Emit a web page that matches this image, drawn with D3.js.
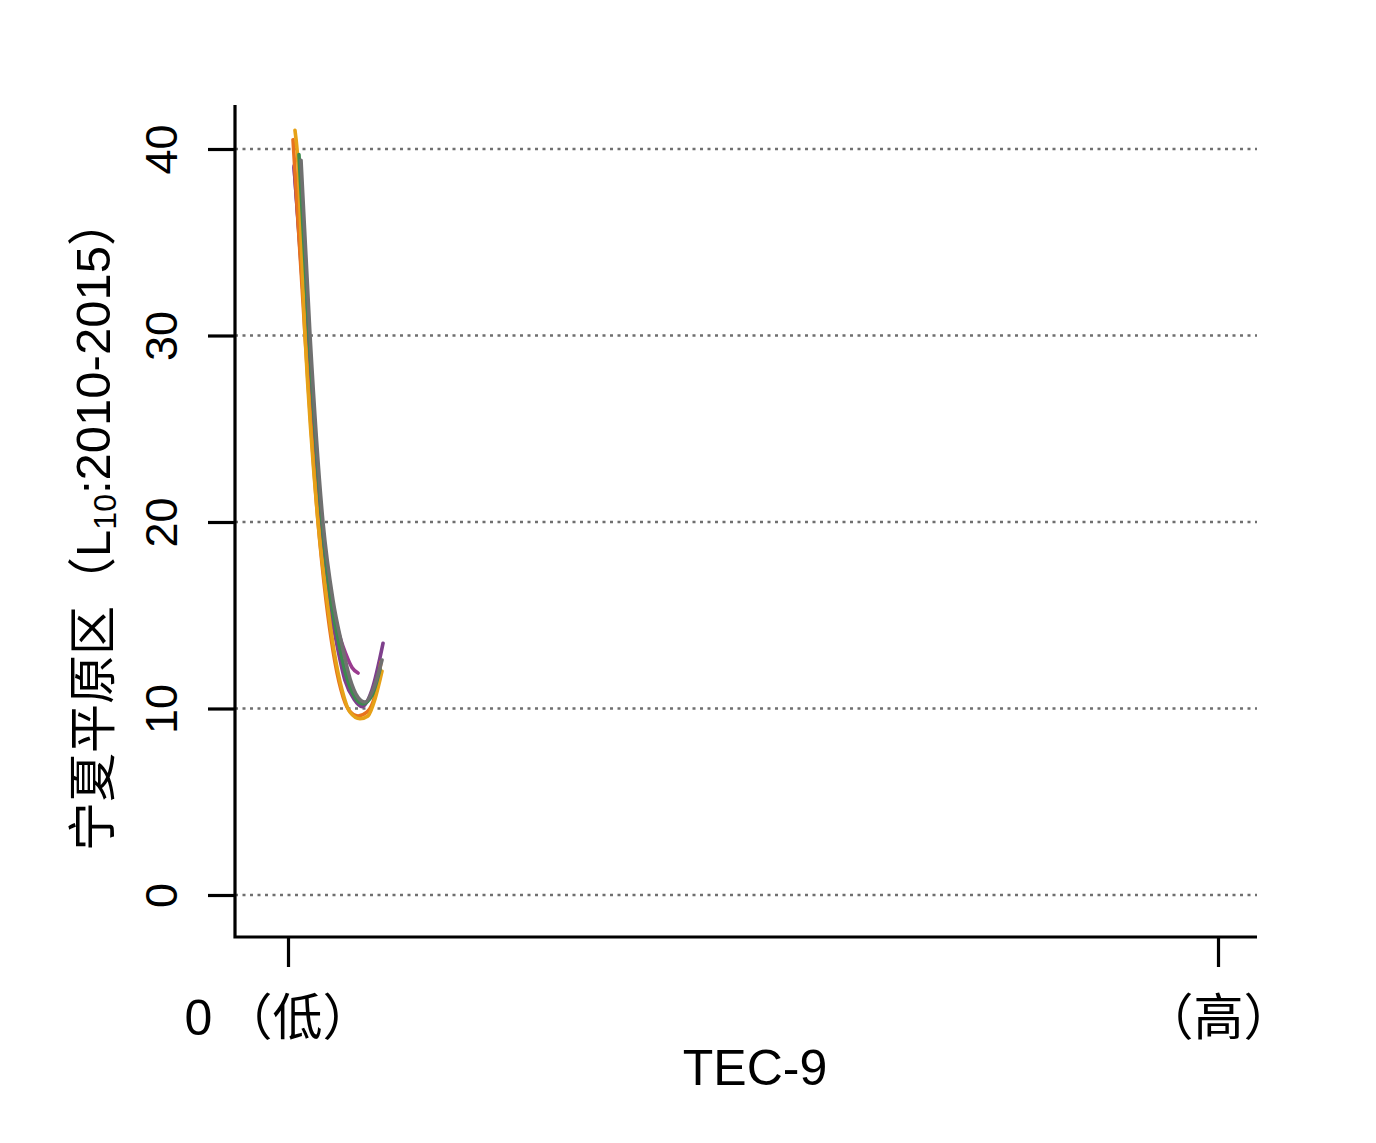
<!DOCTYPE html>
<html>
<head>
<meta charset="utf-8">
<script src="https://cdn.jsdelivr.net/npm/d3@7"></script>
<style>
  body { margin: 0; background: #fff; }
  text { font-family: "Liberation Sans", Arial, "Noto Sans CJK SC", sans-serif; fill: #000; }
</style>
</head>
<body>
<div class="chart"></div>
<script>
// Data (x on a 0-100 scale between the "low" and "high" ticks)
const yTicks = [0, 10, 20, 30, 40];
const xTickValues = [0, 100];
const xTickLabels = ["0\u2009（低）", "（高）"];
const xTitle = "TEC-9";

const seriesColors = ["#9a3b8f", "#7e3f8c", "#e8731e", "#e6a118", "#3d8b4f", "#707070"];

const magenta = [[0.65, 39.0], [2.04, 30.0], [3.55, 20.0], [4.52, 16.4], [5.38, 14.2], [6.24, 12.9], [6.88, 12.2], [7.53, 11.9]];
const purple  = [[0.65, 39.1], [1.94, 30.0], [3.44, 20.0], [4.41, 15.8], [5.27, 13.4], [6.13, 11.5], [7.10, 10.5], [7.96, 10.1], [9.03, 11.0], [10.22, 13.5]];
const orange  = [[0.54, 40.5], [1.83, 30.0], [3.23, 20.0], [4.09, 15.8], [4.84, 13.1], [5.70, 11.0], [6.56, 9.9], [7.53, 9.6], [8.49, 9.8], [9.35, 10.7], [10.0, 12.5]];
const gold    = [[0.75, 41.0], [0.97, 40.0], [1.83, 30.0], [3.23, 20.0], [4.19, 15.8], [4.95, 13.1], [5.81, 11.0], [6.67, 9.8], [7.74, 9.45], [8.60, 9.6], [9.35, 10.5], [10.11, 12.0]];
const green   = [[1.18, 39.7], [2.26, 30.0], [3.66, 20.0], [4.62, 15.8], [5.38, 13.7], [6.24, 11.8], [7.20, 10.6], [8.06, 10.25], [9.03, 10.7], [9.89, 12.1]];
const gray    = [[1.40, 39.4], [2.37, 30.0], [3.76, 20.0], [4.84, 15.8], [5.81, 13.4], [6.67, 11.6], [7.53, 10.6], [8.28, 10.35], [9.14, 11.0], [10.11, 12.6]];

const allSeries = [magenta, purple, orange, gold, green, gray];

const WIDTH = 1376, HEIGHT = 1143;

const svg = d3.select(".chart").append("svg").attr("width", WIDTH).attr("height", HEIGHT);

const x = d3.scaleLinear().domain([0, 100]).range([288, 1218]);
const y = d3.scaleLinear().domain([0, 40]).range([895, 149]);

const plotLeft = 235, plotRight = 1257, plotBottom = 937, plotTop = 105;

// grid
svg.append("g")
  .selectAll("line")
  .data(yTicks)
  .join("line")
  .attr("x1", plotLeft).attr("x2", plotRight)
  .attr("y1", d => y(d)).attr("y2", d => y(d))
  .attr("stroke", "#6f6f6f")
  .attr("stroke-width", 2.5)
  .attr("stroke-dasharray", "3,4.5");

// curves
const line = d3.line()
  .x(d => x(d[0]))
  .y(d => y(d[1]))
  .curve(d3.curveMonotoneX);

svg.append("g")
  .selectAll("path")
  .data(allSeries)
  .join("path")
  .attr("d", line)
  .attr("fill", "none")
  .attr("stroke", (d, i) => seriesColors[i])
  .attr("stroke-width", 3.6)
  .attr("stroke-linecap", "round")
  .attr("stroke-linejoin", "round");

// Y axis
const yAxis = svg.append("g")
  .attr("transform", `translate(${plotLeft}, 0)`)
  .call(d3.axisLeft(y).tickValues(yTicks).tickSize(27).tickSizeOuter(0).tickFormat(d3.format("d")));
yAxis.select(".domain").remove();
yAxis.selectAll(".tick line").attr("stroke", "#000").attr("stroke-width", 3.2);
yAxis.selectAll(".tick text")
  .attr("x", null).attr("dy", null)
  .attr("transform", "translate(-58, 0) rotate(-90)")
  .attr("text-anchor", "middle")
  .attr("font-size", 45);

// X axis
const xAxis = svg.append("g")
  .attr("transform", `translate(0, ${plotBottom})`)
  .call(d3.axisBottom(x).tickValues(xTickValues).tickSize(30).tickSizeOuter(0).tickFormat((d, i) => xTickLabels[i]));
xAxis.select(".domain").remove();
xAxis.selectAll(".tick line").attr("stroke", "#000").attr("stroke-width", 3.2);
xAxis.selectAll(".tick text")
  .attr("y", 98).attr("dy", null)
  .attr("dx", (d, i) => i === 0 ? -10 : 0)
  .attr("font-size", 50);

// axis lines (L shape)
svg.append("path")
  .attr("d", `M${plotLeft},${plotTop}V${plotBottom}H${plotRight}`)
  .attr("fill", "none")
  .attr("stroke", "#000")
  .attr("stroke-width", 3.2);

// titles
svg.append("text")
  .attr("x", 755).attr("y", 1085)
  .attr("text-anchor", "middle")
  .attr("font-size", 50)
  .text(xTitle);

const yLabel = svg.append("text")
  .attr("transform", "translate(110, 524) rotate(-90)")
  .attr("text-anchor", "middle")
  .attr("font-size", 49);
yLabel.append("tspan").text("宁夏平原区（L");
yLabel.append("tspan").attr("font-size", 32).attr("dy", 6).text("10");
yLabel.append("tspan").attr("dy", -6).text(":2010-2015）");
</script>
</body>
</html>
